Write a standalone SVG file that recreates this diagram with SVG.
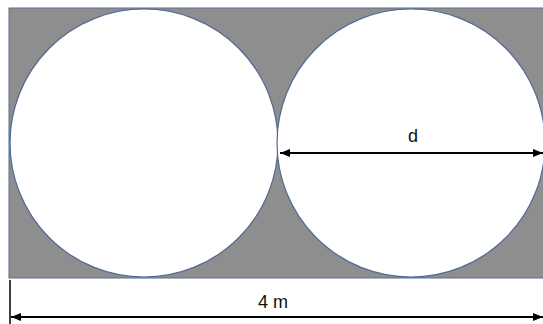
<svg xmlns="http://www.w3.org/2000/svg" width="543" height="324" viewBox="0 0 543 324">
<style>
.circ{fill:#ffffff;stroke:#4f6a96;stroke-width:1.2}
.dim{stroke:#000000;stroke-width:2;fill:none}
.lbl{font-family:"Liberation Sans",Arial,sans-serif;font-size:18px;fill:#111111;text-anchor:middle}
</style>
<defs>
<marker id="ah" viewBox="0 0 10 8" refX="10" refY="4" markerWidth="10" markerHeight="8" markerUnits="userSpaceOnUse" orient="auto-start-reverse">
<path d="M0,0 L10,4 L0,8 Z" fill="#000000"/>
</marker>
</defs>
<rect width="543" height="324" fill="#ffffff"/>
<g id="plate">
<rect x="9" y="8" width="540" height="270" fill="#8e8e8e" stroke="#5b6f8f" stroke-width="1"/>
</g>
<g id="circle-left">
<circle class="circ" cx="144" cy="143" r="134"/>
</g>
<g id="circle-right">
<circle class="circ" cx="411" cy="143" r="134"/>
</g>
<g id="connectors">
<line class="dim" x1="280" y1="153" x2="543" y2="153" marker-start="url(#ah)" marker-end="url(#ah)"/>
<line stroke="#000000" stroke-width="1.5" x1="10" y1="280" x2="10" y2="324"/>
<line class="dim" x1="11" y1="317" x2="543" y2="317" marker-start="url(#ah)" marker-end="url(#ah)"/>
</g>
<g id="labels">
<text class="lbl" x="413" y="142">d</text>
<text class="lbl" x="273" y="308">4 m</text>
</g>
</svg>
